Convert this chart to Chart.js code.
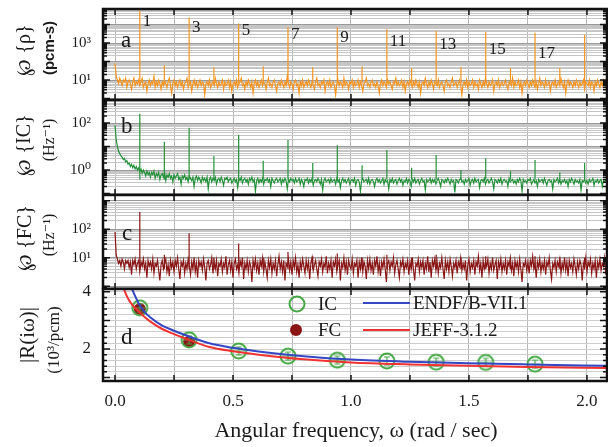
<!DOCTYPE html>
<html>
<head>
<meta charset="utf-8">
<script src="https://cdn.jsdelivr.net/npm/chart.js@4.4.0/dist/chart.umd.min.js"></script>
<style>
  body { margin: 0; background: #fff; }
  #wrap { position: relative; width: 608px; height: 447px; overflow: hidden; }
  canvas { position: absolute; left: 0; }
</style>
</head>
<body>
<div id="wrap">
  <canvas id="chartA" width="608" height="100" style="top:0px"></canvas>
  <canvas id="chartB" width="608" height="95" style="top:100px"></canvas>
  <canvas id="chartC" width="608" height="94" style="top:195px"></canvas>
  <canvas id="chartD" width="608" height="168" style="top:279px"></canvas>
</div>
<script>
// ---- data (PSD values are log10) ----
const xTicks = [0, 0.25, 0.5, 0.75, 1.0, 1.25, 1.5, 1.75, 2.0];

// noise samples every 0.005 rad/s, from 0.000 to 2.095
const rhoNoiseLog = [
  1.9, 1.2, 1.0, 0.8, 1.1, 0.9, 0.7, 1.0, 0.9, 1.1,
  0.6, 0.9, 1.0, 0.8, 0.5, 0.9, 1.1, 0.7, 0.9, 0.8,
  1.0, 0.7, 0.9, 1.1, 0.6, 0.8, 0.9, 0.4, 0.8, 1.0,
  0.7, 0.9, 0.8, 1.2, 0.6, 0.9, 0.7, 1.0, 0.8, 0.5,
  0.9, 0.7, 1.0, 0.8, 0.6, 0.9, 1.1, 0.7, 0.3, 0.8,
  1.0, 0.7, 0.9, 0.6, 0.8, 1.0, 0.7, 0.9, 0.5, 0.8,
  0.9, 1.1, 0.6, 0.8, 0.9, 0.4, 0.8, 1.0, 0.7, 0.9,
  0.6, 0.8, 1.0, 0.7, 0.9, 0.8, 0.2, 0.8, 0.9, 0.7,
  1.0, 0.6, 0.8, 0.9, 0.7, 1.1, 0.8, 0.6, 0.9, 0.7,
  0.8, 1.0, 0.5, 0.9, 0.7, 0.8, 1.0, 0.6, 0.9, 0.4,
  0.8, 0.9, 0.7, 1.0, 0.6, 0.8, 0.9, 1.1, 0.7, 0.8,
  0.5, 0.9, 0.7, 1.0, 0.8, 0.6, 0.9, 0.3, 0.8, 1.0,
  0.7, 0.9, 0.6, 0.8, 1.0, 0.7, 0.9, 0.8, 0.5, 0.9,
  1.1, 0.7, 0.8, 0.6, 0.9, 1.0, 0.7, 0.4, 0.8, 0.9,
  0.7, 1.0, 0.8, 0.6, 0.9, 0.7, 1.2, 0.8, 0.6, 0.9,
  0.8, 0.5, 0.9, 1.0, 0.7, 0.8, 0.3, 0.9, 0.7, 1.0,
  0.6, 0.8, 0.9, 0.7, 1.0, 0.8, 0.6, 0.9, 0.7, 0.5,
  0.9, 1.1, 0.7, 0.8, 0.6, 0.9, 0.8, 1.0, 0.4, 0.8,
  0.9, 0.7, 1.0, 0.6, 0.8, 0.9, 0.7, 0.2, 0.8, 1.0,
  0.7, 0.9, 0.8, 0.6, 1.1, 0.7, 0.9, 0.8, 0.5, 0.9,
  0.8, 1.0, 0.6, 0.9, 0.7, 0.8, 1.0, 0.6, 0.9, 0.7,
  0.4, 0.8, 0.9, 1.1, 0.7, 0.8, 0.6, 0.9, 1.0, 0.7,
  0.8, 0.6, 0.9, 0.7, 0.3, 0.8, 1.0, 0.7, 0.9, 0.8,
  0.6, 1.0, 0.8, 0.9, 0.7, 0.5, 0.9, 0.8, 1.1, 0.7,
  0.9, 0.7, 0.8, 1.0, 0.6, 0.9, 0.4, 0.8, 0.9, 0.7,
  1.0, 0.8, 0.6, 0.9, 0.7, 1.0, 0.8, 0.6, 0.9, 0.3,
  0.8, 0.9, 0.7, 1.1, 0.8, 0.6, 0.9, 0.7, 1.0, 0.8,
  0.5, 0.9, 0.8, 0.7, 1.0, 0.6, 0.8, 0.9, 0.7, 0.4,
  0.9, 1.0, 0.7, 0.8, 0.6, 0.9, 1.1, 0.7, 0.8, 0.9,
  0.6, 0.8, 1.0, 0.7, 0.2, 0.8, 0.9, 0.7, 1.0, 0.6,
  0.9, 0.7, 0.8, 1.0, 0.6, 0.9, 0.7, 0.8, 0.5, 1.0,
  0.8, 0.6, 0.9, 0.7, 1.1, 0.8, 0.6, 0.9, 0.7, 0.8,
  1.0, 0.4, 0.8, 0.9, 0.7, 1.0, 0.6, 0.8, 0.9, 0.7,
  0.8, 1.0, 0.7, 0.5, 0.9, 0.8, 0.7, 1.1, 0.6, 0.9,
  0.7, 0.8, 1.0, 0.6, 0.9, 0.3, 0.8, 0.9, 0.7, 1.0,
  0.8, 0.6, 0.9, 0.7, 1.0, 0.8, 0.6, 0.9, 0.5, 0.8,
  1.1, 0.7, 0.9, 0.8, 0.6, 1.0, 0.7, 0.8, 0.9, 0.4,
  0.8, 0.9, 0.7, 1.0, 0.6, 0.8, 0.9, 0.7, 1.1, 0.8,
  0.6, 0.9, 0.3, 0.8, 1.0, 0.7, 0.9, 0.8, 0.6, 0.9,
  0.7, 1.0, 0.8, 0.6, 0.9, 0.7, 0.8, 1.0, 0.5, 0.9,
  0.8, 0.7, 1.0, 0.6, 0.9, 0.8, 0.4, 0.9, 0.7, 1.0,
  0.8, 0.6, 0.9, 0.7, 1.0, 0.8, 0.6, 0.9, 0.7, 0.8
];
const icNoiseLog = [
  1.9, 1.3, 1.0, 0.8, 0.7, 0.6, 0.55, 0.45, 0.5, 0.35,
  0.4, 0.25, 0.3, 0.15, 0.25, 0.1, 0.2, 0.05, 0.15, 0.0,
  0.1, -0.05, 0.05, -0.15, 0.0, -0.1, -0.25, -0.05, -0.2, -0.1,
  -0.3, -0.1, -0.2, -0.05, -0.35, -0.15, -0.25, -0.1, -0.4, -0.2,
  -0.15, -0.3, -0.1, -0.45, -0.2, -0.3, -0.15, -0.35, -0.25, -0.5,
  -0.2, -0.35, -0.25, -0.15, -0.4, -0.3, -0.6, -0.25, -0.35, -0.2,
  -0.4, -0.3, -0.5, -0.25, -0.35, -0.45, -0.3, -0.7, -0.35, -0.25,
  -0.45, -0.3, -0.4, -0.55, -0.3, -0.45, -0.35, -0.5, -0.3, -0.8,
  -0.4, -0.3, -0.5, -0.35, -0.45, -0.3, -0.6, -0.4, -0.35, -0.5,
  -0.3, -0.45, -0.65, -0.35, -0.4, -0.3, -0.5, -0.4, -0.35, -0.55,
  -0.45, -0.35, -0.5, -0.4, -0.75, -0.35, -0.45, -0.3, -0.55, -0.4,
  -0.35, -0.5, -0.4, -0.6, -0.35, -0.45, -0.3, -0.5, -0.4, -0.9,
  -0.45, -0.35, -0.55, -0.4, -0.5, -0.35, -0.6, -0.4, -0.45, -0.35,
  -0.5, -0.4, -0.7, -0.35, -0.45, -0.55, -0.4, -0.35, -0.5, -0.45,
  -0.35, -0.6, -0.4, -0.5, -0.35, -0.45, -0.8, -0.4, -0.5, -0.35,
  -0.45, -0.4, -0.55, -0.35, -0.5, -0.45, -0.35, -0.6, -0.4, -0.5,
  -0.7, -0.4, -0.45, -0.35, -0.55, -0.4, -0.5, -0.35, -0.65, -0.45,
  -0.4, -0.5, -0.35, -0.45, -0.6, -0.4, -0.85, -0.45, -0.35, -0.5,
  -0.45, -0.4, -0.55, -0.35, -0.5, -0.45, -0.4, -0.6, -0.35, -0.5,
  -0.4, -0.75, -0.45, -0.35, -0.5, -0.4, -0.55, -0.45, -0.35, -0.6,
  -0.45, -0.4, -0.5, -0.35, -0.65, -0.45, -0.4, -0.5, -0.9, -0.45,
  -0.35, -0.5, -0.45, -0.4, -0.55, -0.35, -0.6, -0.45, -0.4, -0.5,
  -0.7, -0.45, -0.35, -0.5, -0.4, -0.55, -0.45, -0.35, -0.6, -0.4,
  -0.5, -0.45, -0.8, -0.4, -0.5, -0.35, -0.55, -0.45, -0.4, -0.6,
  -0.45, -0.35, -0.5, -0.4, -0.65, -0.45, -0.5, -0.35, -0.55, -0.4,
  -0.45, -0.7, -0.4, -0.5, -0.35, -0.55, -0.45, -0.4, -0.6, -0.45,
  -0.35, -0.5, -0.45, -0.85, -0.4, -0.5, -0.45, -0.35, -0.55, -0.4,
  -0.5, -0.4, -0.6, -0.45, -0.35, -0.5, -0.7, -0.4, -0.45, -0.55,
  -0.4, -0.5, -0.35, -0.45, -0.6, -0.4, -0.5, -0.45, -0.95, -0.4,
  -0.45, -0.55, -0.4, -0.35, -0.5, -0.45, -0.6, -0.4, -0.5, -0.45,
  -0.35, -0.65, -0.45, -0.4, -0.55, -0.35, -0.5, -0.45, -0.4, -0.75,
  -0.45, -0.4, -0.5, -0.35, -0.6, -0.45, -0.4, -0.55, -0.45, -0.35,
  -0.5, -0.8, -0.4, -0.45, -0.55, -0.4, -0.5, -0.35, -0.6, -0.45,
  -0.4, -0.5, -0.45, -0.7, -0.35, -0.5, -0.45, -0.4, -0.55, -0.45,
  -0.6, -0.4, -0.5, -0.35, -0.45, -0.9, -0.4, -0.5, -0.45, -0.55,
  -0.4, -0.45, -0.35, -0.6, -0.5, -0.4, -0.55, -0.45, -0.7, -0.4,
  -0.5, -0.45, -0.4, -0.55, -0.35, -0.5, -0.65, -0.45, -0.4, -0.5,
  -0.45, -0.8, -0.4, -0.5, -0.45, -0.35, -0.55, -0.4, -0.6, -0.45,
  -0.5, -0.4, -0.55, -0.45, -0.7, -0.4, -0.5, -0.35, -0.45, -0.6,
  -0.4, -0.5, -0.45, -0.55, -0.4, -0.85, -0.45, -0.5, -0.4, -0.55,
  -0.45, -0.6, -0.4, -0.5, -0.45, -0.35, -0.65, -0.45, -0.5, -0.4,
  -0.55, -0.45, -0.4, -0.7, -0.45, -0.5, -0.4, -0.55, -0.45, -0.5
];
const fcNoiseLog = [
  1.9, 1.1, 0.95, 0.8, 0.9, 0.7, 0.95, 0.85, 0.6, 0.9,
  0.8, 0.9, 0.65, 0.85, 0.4, 0.9, 0.75, 0.95, 0.6, 0.8,
  0.9, 0.5, 0.85, 0.7, 0.95, 0.6, 0.8, 0.3, 0.9, 0.7,
  0.85, 0.6, 0.95, 0.45, 0.8, 0.7, 0.9, 0.55, 0.2, 0.75,
  0.9, 0.6, 0.8, 0.95, 0.5, 0.75, 0.35, 0.9, 0.65, 0.85,
  0.5, 0.9, 0.7, 1.0, 0.6, 0.25, 0.85, 0.7, 0.9, 0.45,
  0.8, 0.6, 0.95, 0.7, 0.4, 0.85, 0.6, 1.0, 0.5, 0.8,
  0.3, 0.9, 0.7, 0.85, 0.55, 0.95, 0.65, 0.2, 0.8, 0.9,
  0.6, 0.75, 1.0, 0.45, 0.85, 0.6, 0.9, 0.35, 0.8, 0.7,
  0.95, 0.5, 0.8, 0.65, 1.05, 0.4, 0.75, 0.9, 0.55, 0.85,
  0.3, 0.8, 0.95, 0.6, 0.75, 0.45, 0.9, 0.7, 1.0, 0.25,
  0.8, 0.6, 0.9, 0.5, 0.85, 0.7, 0.15, 0.9, 0.65, 0.95,
  0.55, 0.8, 0.4, 0.9, 0.7, 1.0, 0.5, 0.85, 0.6, 0.3,
  0.9, 0.65, 0.95, 0.45, 0.8, 0.6, 0.9, 0.35, 0.75, 1.05,
  0.6, 0.85, 0.5, 0.9, 0.2, 0.8, 0.7, 0.95, 0.55, 0.85,
  0.4, 0.9, 0.65, 1.0, 0.5, 0.75, 0.3, 0.85, 0.6, 0.95,
  0.7, 0.45, 0.9, 0.6, 0.85, 0.25, 0.8, 1.0, 0.55, 0.75,
  0.9, 0.6, 0.35, 0.85, 0.7, 0.95, 0.5, 0.8, 0.65, 1.05,
  0.45, 0.8, 0.6, 0.9, 0.3, 0.85, 0.7, 0.95, 0.5, 0.75,
  0.9, 0.2, 0.8, 0.65, 1.0, 0.55, 0.85, 0.4, 0.9, 0.7,
  0.6, 0.95, 0.45, 0.8, 0.7, 0.9, 0.3, 0.85, 0.6, 1.0,
  0.5, 0.85, 0.7, 0.25, 0.9, 0.6, 0.95, 0.55, 0.8, 0.4,
  0.9, 0.7, 1.05, 0.5, 0.8, 0.35, 0.85, 0.65, 0.95, 0.6,
  0.15, 0.8, 0.9, 0.55, 0.85, 0.7, 1.0, 0.45, 0.75, 0.9,
  0.6, 0.3, 0.85, 0.7, 0.95, 0.5, 0.8, 0.65, 0.9, 0.4,
  0.85, 0.6, 1.0, 0.55, 0.2, 0.8, 0.7, 0.95, 0.5, 0.85,
  0.65, 0.9, 0.4, 0.8, 0.6, 1.05, 0.5, 0.85, 0.3, 0.9,
  0.7, 0.95, 0.55, 0.85, 0.45, 0.8, 0.65, 1.0, 0.6, 0.25,
  0.9, 0.6, 0.85, 0.5, 0.95, 0.7, 0.35, 0.8, 0.65, 0.9,
  0.45, 0.85, 0.7, 1.0, 0.55, 0.8, 0.6, 0.9, 0.2, 0.75,
  0.95, 0.5, 0.8, 0.65, 0.9, 0.4, 0.85, 0.7, 1.05, 0.55,
  0.8, 0.3, 0.9, 0.6, 0.85, 0.7, 0.95, 0.45, 0.8, 0.6,
  1.0, 0.55, 0.75, 0.9, 0.25, 0.85, 0.65, 0.95, 0.5, 0.8,
  0.6, 0.9, 0.4, 0.85, 0.7, 1.0, 0.55, 0.8, 0.35, 0.9,
  0.65, 0.85, 0.5, 0.95, 0.6, 0.15, 0.8, 0.7, 0.9, 0.55,
  0.85, 0.45, 0.9, 0.7, 1.05, 0.6, 0.8, 0.3, 0.85, 0.65,
  0.95, 0.5, 0.8, 0.6, 0.9, 0.4, 0.85, 0.7, 1.0, 0.55,
  0.25, 0.8, 0.65, 0.9, 0.5, 0.85, 0.7, 0.95, 0.45, 0.8,
  0.6, 1.0, 0.55, 0.85, 0.35, 0.9, 0.65, 0.8, 0.5, 0.95,
  0.7, 0.4, 0.85, 0.6, 0.9, 0.75, 0.2, 0.8, 0.65, 1.0,
  0.5, 0.85, 0.7, 0.95, 0.45, 0.8, 0.6, 0.9, 0.3, 0.85,
  0.65, 0.95, 0.55, 0.8, 0.7, 1.0, 0.4, 0.85, 0.6, 0.9
];

// harmonics of the 60 s period and the peak heights (log10)
const harmonicX = [0.105, 0.209, 0.314, 0.419, 0.524, 0.628, 0.733, 0.838, 0.942, 1.047,
                   1.152, 1.257, 1.361, 1.466, 1.571, 1.676, 1.780, 1.885, 1.990];
const rhoPeakLog = [4.75, 1.8, 4.4, 1.7, 4.05, 1.75, 3.85, 1.7, 3.85, 1.75,
                    3.75, 1.65, 3.65, 1.7, 3.6, 1.65, 3.55, 1.65, 3.45];
const icPeakLog = [2.4, 1.2, 1.8, 0.6, 1.5, 0.4, 1.28, 0.3, 1.06, 0.2,
                   0.85, 0.1, 0.64, 0.0, 0.5, -0.05, 0.43, -0.1, 0.3];
const fcPeakLog = [2.6, 1.1, 1.86, 1.0, 1.5, 1.0, 1.2, 1.05, 1.15, 1.0,
                   1.1, 1.0, 1.1, 1.0, 1.05, 1.0, 1.05, 1.0, 1.0];
const peakLabels = ['1', '3', '5', '7', '9', '11', '13', '15', '17'];

// panel d: transfer function magnitude (10^3/pcm)
const curveX = [0.03, 0.04, 0.05, 0.06, 0.07, 0.08, 0.1, 0.125, 0.15, 0.2, 0.25,
                0.3, 0.4, 0.5, 0.6, 0.8, 1.0, 1.25, 1.5, 1.75, 2.1];
const endfR = [5.2, 4.9, 4.6, 4.35, 4.15, 3.95, 3.6, 3.3, 3.1, 2.82, 2.64,
               2.48, 2.2, 2.04, 1.92, 1.75, 1.63, 1.55, 1.5, 1.46, 1.41];
const jeffR = [4.3, 4.05, 3.85, 3.7, 3.58, 3.48, 3.32, 3.12, 2.96, 2.7, 2.52,
               2.36, 2.07, 1.92, 1.81, 1.64, 1.53, 1.46, 1.41, 1.37, 1.33];
const icX = [0.105, 0.314, 0.524, 0.733, 0.942, 1.152, 1.361, 1.571, 1.780];
const icR = [3.44, 2.32, 1.93, 1.75, 1.61, 1.58, 1.54, 1.53, 1.47];
const fcX = [0.105, 0.314];
const fcR = [3.40, 2.25];

// ---- look ----
const X_MIN = -0.051, X_MAX = 2.085;
const INK = '#1a1a1a';
const ORANGE = '#f7941d', GREEN = '#23913a', DARKRED = '#8b1414';
const IC_GREEN = '#45a845', BLUE = '#3546c4', RED = '#f23232';
const SERIF = '"Liberation Serif", "DejaVu Serif", serif';
const SUP = { '-1': '⁻¹', '0': '⁰', '1': '¹', '2': '²', '3': '³', '4': '⁴' };

Chart.defaults.font.family = SERIF;
Chart.defaults.color = INK;

const omega = rhoNoiseLog.map((v, i) => i / 200);

function noiseSeries(logs) {
    return logs.map((v, i) => ({ x: omega[i], y: Math.pow(10, v) }));
}

function spikeSeries(peaks, baseLog) {
    const pts = [];
    harmonicX.forEach((x, i) => {
        pts.push({ x: x, y: Math.pow(10, baseLog) }, { x: x, y: Math.pow(10, peaks[i]) }, { x: x, y: null });
    });
    return pts;
}

function logTicks(lo, hi) {
    const t = [];
    for (let k = Math.floor(lo); k <= Math.ceil(hi); k++) {
        for (let m = 1; m <= 9; m++) {
            const v = m * Math.pow(10, k);
            const lv = Math.log10(v);
            if (lv >= lo && lv <= hi) t.push({ value: v, major: m === 1 });
        }
    }
    return t;
}

// keep the plot areas where the picture has them
function noPad(s) {
    s.paddingTop = 0; s.paddingBottom = 0; s.paddingLeft = 0; s.paddingRight = 0;
}

function xScale(withLabels) {
    return {
        type: 'linear', min: X_MIN, max: X_MAX,
        afterBuildTicks: s => { s.ticks = xTicks.map(v => ({ value: v })); },
        afterFit: s => { s.height = withLabels ? 66 : 0; noPad(s); },
        grid: { color: '#b8b8b8', drawTicks: false },
        border: { display: false },
        ticks: {
            display: withLabels, padding: 10, maxRotation: 0, autoSkip: false,
            font: { size: 17 }, color: INK,
            callback: v => (Math.round(v * 100) % 50 === 0 ? v.toFixed(1) : '')
        }
    };
}

// inward ticks and the black frame
const framePlugin = {
    id: 'frame',
    afterDatasetsDraw(chart) {
        const { ctx, chartArea: a, scales } = chart;
        ctx.save();
        ctx.strokeStyle = '#111';
        ctx.lineWidth = 1.5;
        ctx.beginPath();
        scales.y.ticks.forEach(t => {
            const py = scales.y.getPixelForValue(t.value);
            const len = t.major ? 7 : 4;
            ctx.moveTo(a.left, py); ctx.lineTo(a.left + len, py);
            ctx.moveTo(a.right, py); ctx.lineTo(a.right - len, py);
        });
        scales.x.ticks.forEach(t => {
            const px = scales.x.getPixelForValue(t.value);
            ctx.moveTo(px, a.top); ctx.lineTo(px, a.top + 6);
            ctx.moveTo(px, a.bottom); ctx.lineTo(px, a.bottom - 6);
        });
        ctx.stroke();
        ctx.lineWidth = 2.5;
        ctx.strokeRect(a.left, a.top, a.right - a.left, a.bottom - a.top);
        ctx.restore();
    }
};

function textLayer(top, draw) {
    return {
        id: 'text',
        afterDraw(chart) {
            const ctx = chart.ctx;
            ctx.save();
            ctx.translate(0, -top);
            ctx.fillStyle = INK;
            draw(ctx, chart);
            ctx.restore();
        }
    };
}

function vText(ctx, s, x, y, font) {
    ctx.save();
    ctx.translate(x, y);
    ctx.rotate(-Math.PI / 2);
    ctx.font = font;
    ctx.textAlign = 'center';
    ctx.textBaseline = 'middle';
    ctx.fillText(s, 0, 0);
    ctx.restore();
}

function hText(ctx, s, x, y, font, align) {
    ctx.font = font;
    ctx.textAlign = align || 'left';
    ctx.textBaseline = 'middle';
    ctx.fillText(s, x, y);
}

function logPanel(id, top, padTop, lo, hi, labelled, datasets, draw) {
    new Chart(document.getElementById(id), {
        type: 'scatter',
        data: { datasets: datasets },
        options: {
            responsive: false, animation: false, devicePixelRatio: 1, events: [],
            layout: { autoPadding: false, padding: { top: padTop, left: 0, right: 1, bottom: 0 } },
            plugins: { legend: { display: false }, tooltip: { enabled: false } },
            scales: {
                x: xScale(false),
                y: {
                    type: 'logarithmic', min: Math.pow(10, lo), max: Math.pow(10, hi),
                    afterBuildTicks: s => { s.ticks = logTicks(lo, hi); },
                    afterFit: s => { s.width = 103; noPad(s); },
                    grid: { color: c => (c.tick && c.tick.major ? '#999999' : '#c6c6c6'), drawTicks: false },
                    border: { display: false },
                    ticks: {
                        padding: 12, autoSkip: false, font: { size: 15 }, color: INK,
                        callback: (v, i, ticks) => {
                            if (!ticks[i].major) return '';
                            const k = Math.round(Math.log10(v));
                            return labelled.includes(k) ? '10' + SUP[k] : '';
                        }
                    }
                }
            }
        },
        plugins: [framePlugin, textLayer(top, draw)]
    });
}

function lineSet(data, color, width) {
    return { data: data, showLine: true, borderColor: color, borderWidth: width, pointRadius: 0, spanGaps: false };
}

// panel a: reactivity
logPanel('chartA', 0, 9, -0.08, 4.84, [1, 3], [
    lineSet(noiseSeries(rhoNoiseLog), ORANGE, 1.2),
    lineSet(spikeSeries(rhoPeakLog, 0.8), ORANGE, 1.2)
], (ctx, chart) => {
    vText(ctx, '℘ {ρ}', 25, 50, '20px ' + SERIF);
    vText(ctx, '(pcm-s)', 50, 48, 'bold 15px "Liberation Sans", Arial, sans-serif');
    hText(ctx, 'a', 121, 41, '23px ' + SERIF);
    const ys = [22, 28, 31, 35, 38, 42, 45, 50, 54];
    peakLabels.forEach((s, i) => {
        const px = chart.scales.x.getPixelForValue(harmonicX[i * 2]);
        hText(ctx, s, px + 3, ys[i], '17px ' + SERIF);
    });
});

// panel b: ionisation chamber
logPanel('chartB', 100, 0, -1.06, 2.98, [0, 2], [
    lineSet(noiseSeries(icNoiseLog), GREEN, 1.2),
    lineSet(spikeSeries(icPeakLog, -0.4), GREEN, 1.2)
], ctx => {
    vText(ctx, '℘ {IC}', 25, 145, '20px ' + SERIF);
    vText(ctx, '(Hz⁻¹)', 50, 140, '16px ' + SERIF);
    hText(ctx, 'b', 121, 127, '23px ' + SERIF);
});

// panel c: fission chamber
logPanel('chartC', 195, 0, -0.1, 3.2, [1, 2], [
    lineSet(noiseSeries(fcNoiseLog), DARKRED, 1.2),
    lineSet(spikeSeries(fcPeakLog, 0.6), DARKRED, 1.2)
], ctx => {
    vText(ctx, '℘ {FC}', 26, 238, '20px ' + SERIF);
    vText(ctx, '(Hz⁻¹)', 50, 235, '16px ' + SERIF);
    hText(ctx, 'c', 122, 234, '23px ' + SERIF);
});

// panel d: transfer function
function icMarker() {
    const c = document.createElement('canvas');
    c.width = 20; c.height = 20;
    const g = c.getContext('2d');
    g.strokeStyle = IC_GREEN;
    g.lineWidth = 2;
    g.beginPath(); g.arc(10, 10, 7.5, 0, 2 * Math.PI); g.stroke();
    g.lineWidth = 1.2;
    g.beginPath();
    g.moveTo(10, 6); g.lineTo(10, 14);
    g.moveTo(7, 6); g.lineTo(13, 6);
    g.moveTo(7, 14); g.lineTo(13, 14);
    g.moveTo(4, 10); g.lineTo(16, 10);
    g.stroke();
    return c;
}

const dTicks = [];
for (let v = 10; v <= 40; v += 2) dTicks.push({ value: v / 10, major: v % 10 === 0 });

// canvas starts 10px above the plot so the "4" label is not cut
new Chart(document.getElementById('chartD'), {
    type: 'scatter',
    data: {
        datasets: [
            Object.assign(lineSet(curveX.map((x, i) => ({ x: x, y: endfR[i] })), BLUE, 2), { cubicInterpolationMode: 'monotone' }),
            Object.assign(lineSet(curveX.map((x, i) => ({ x: x, y: jeffR[i] })), RED, 2), { cubicInterpolationMode: 'monotone' }),
            { data: icX.map((x, i) => ({ x: x, y: icR[i] })), pointStyle: icMarker(), pointRadius: 10 },
            { data: fcX.map((x, i) => ({ x: x, y: fcR[i] })), pointStyle: 'circle', pointRadius: 6,
              backgroundColor: DARKRED, borderColor: DARKRED, borderWidth: 0 }
        ]
    },
    options: {
        responsive: false, animation: false, devicePixelRatio: 1, events: [],
        layout: { autoPadding: false, padding: { top: 10, left: 0, right: 1, bottom: 0 } },
        plugins: { legend: { display: false }, tooltip: { enabled: false } },
        scales: {
            x: xScale(true),
            y: {
                type: 'linear', min: 0.88, max: 4.1,
                afterBuildTicks: s => { s.ticks = dTicks.map(t => ({ value: t.value, major: t.major })); },
                afterFit: s => { s.width = 103; noPad(s); },
                grid: { color: '#cdcdcd', drawTicks: false },
                border: { display: false },
                ticks: {
                    padding: 12, autoSkip: false, font: { size: 17 }, color: INK,
                    callback: v => (Math.abs(v - 2) < 1e-6 || Math.abs(v - 4) < 1e-6 ? String(Math.round(v)) : '')
                }
            }
        }
    },
    plugins: [framePlugin, textLayer(279, ctx => {
        vText(ctx, '|R(iω)|', 28, 335, '21px ' + SERIF);
        vText(ctx, '(10³/pcm)', 55, 340, '17px ' + SERIF);
        hText(ctx, 'd', 121, 338, '23px ' + SERIF);
        // legend
        ctx.strokeStyle = IC_GREEN; ctx.lineWidth = 2;
        ctx.beginPath(); ctx.arc(297, 304, 7.5, 0, 2 * Math.PI); ctx.stroke();
        ctx.fillStyle = DARKRED;
        ctx.beginPath(); ctx.arc(296, 330, 6, 0, 2 * Math.PI); ctx.fill();
        ctx.lineWidth = 2;
        ctx.strokeStyle = BLUE;
        ctx.beginPath(); ctx.moveTo(363, 303); ctx.lineTo(410, 303); ctx.stroke();
        ctx.strokeStyle = RED;
        ctx.beginPath(); ctx.moveTo(363, 330); ctx.lineTo(410, 330); ctx.stroke();
        ctx.fillStyle = INK;
        hText(ctx, 'IC', 318, 305, '19px ' + SERIF);
        hText(ctx, 'FC', 318, 331, '19px ' + SERIF);
        hText(ctx, 'ENDF/B-VII.1', 413, 304, '19px ' + SERIF);
        hText(ctx, 'JEFF-3.1.2', 413, 331, '19px ' + SERIF);
        hText(ctx, 'Angular frequency, ω (rad / sec)', 356, 431, '22px ' + SERIF, 'center');
    })]
});
</script>
</body>
</html>
